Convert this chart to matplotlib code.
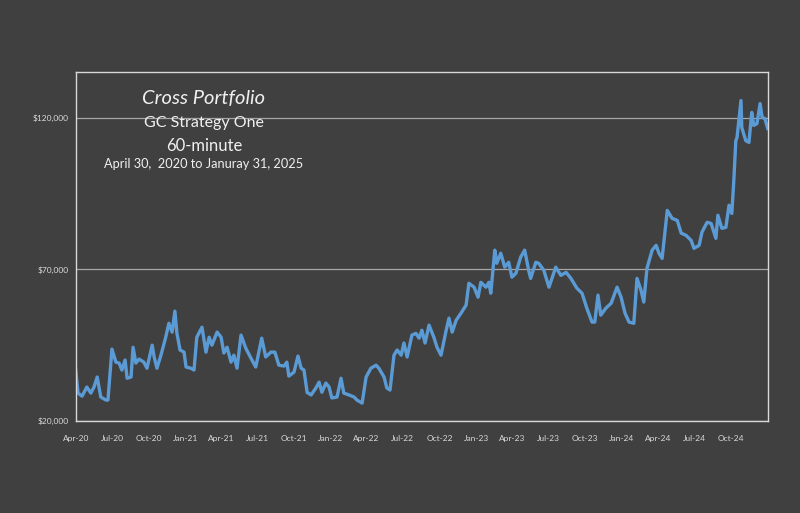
import pandas as pd
import matplotlib
matplotlib.use("Agg")
import matplotlib.pyplot as plt
import matplotlib.dates as mdates
from matplotlib.ticker import FuncFormatter

# equity curve
dates = [
    "2020-04-30", "2020-05-06", "2020-05-16", "2020-05-28", "2020-06-07", "2020-06-15",
    "2020-06-23", "2020-07-02", "2020-07-15", "2020-07-20", "2020-07-30", "2020-08-09",
    "2020-08-17", "2020-08-24", "2020-09-01", "2020-09-06", "2020-09-16", "2020-09-21",
    "2020-09-28", "2020-10-06", "2020-10-18", "2020-10-26", "2020-11-08", "2020-11-13",
    "2020-11-20", "2020-11-30", "2020-12-12", "2020-12-20", "2020-12-28", "2021-01-04",
    "2021-01-09", "2021-01-17", "2021-01-27", "2021-02-01", "2021-02-13", "2021-02-21",
    "2021-02-28", "2021-03-13", "2021-03-23", "2021-03-31", "2021-04-07", "2021-04-20",
    "2021-04-30", "2021-05-07", "2021-05-15", "2021-05-25", "2021-06-01", "2021-06-09",
    "2021-06-19", "2021-07-01", "2021-07-14", "2021-07-26", "2021-08-10", "2021-08-20",
    "2021-09-02", "2021-09-12", "2021-09-22", "2021-10-05", "2021-10-12", "2021-10-17",
    "2021-10-30", "2021-11-09", "2021-11-17", "2021-11-24", "2021-12-02", "2021-12-12",
    "2021-12-24", "2022-01-01", "2022-01-08", "2022-01-18", "2022-01-26", "2022-02-02",
    "2022-02-15", "2022-02-25", "2022-03-04", "2022-03-17", "2022-03-30", "2022-04-06",
    "2022-04-19", "2022-04-29", "2022-05-11", "2022-05-24", "2022-05-31", "2022-06-13",
    "2022-06-20", "2022-06-28", "2022-07-08", "2022-07-16", "2022-07-26", "2022-08-02",
    "2022-08-10", "2022-08-22", "2022-09-01", "2022-09-09", "2022-09-16", "2022-09-24",
    "2022-10-04", "2022-10-16", "2022-10-24", "2022-11-03", "2022-11-15", "2022-11-23",
    "2022-12-01", "2022-12-11", "2022-12-23", "2023-01-05", "2023-01-12", "2023-01-25",
    "2023-02-04", "2023-02-11", "2023-02-24", "2023-03-03", "2023-03-08", "2023-03-18",
    "2023-03-23", "2023-04-02", "2023-04-12", "2023-04-22", "2023-04-30", "2023-05-10",
    "2023-05-22", "2023-06-01", "2023-06-11", "2023-06-16", "2023-06-29", "2023-07-06",
    "2023-07-19", "2023-08-01", "2023-08-18", "2023-08-31", "2023-09-13", "2023-09-25",
    "2023-10-10", "2023-10-23", "2023-11-04", "2023-11-17", "2023-11-24", "2023-12-02",
    "2023-12-09", "2023-12-22", "2024-01-04", "2024-01-19", "2024-01-29", "2024-02-08",
    "2024-02-18", "2024-03-01", "2024-03-09", "2024-03-19", "2024-03-26", "2024-04-03",
    "2024-04-16", "2024-04-26", "2024-05-03", "2024-05-11", "2024-05-24", "2024-06-05",
    "2024-06-18", "2024-06-28", "2024-07-10", "2024-07-23", "2024-07-30", "2024-08-12",
    "2024-08-19", "2024-09-01", "2024-09-11", "2024-09-23", "2024-09-28", "2024-10-08",
    "2024-10-18", "2024-10-26", "2024-11-02", "2024-11-07", "2024-11-12", "2024-11-15",
    "2024-11-25", "2024-11-27", "2024-12-07", "2024-12-15", "2024-12-22", "2024-12-27",
    "2025-01-04", "2025-01-12", "2025-01-17", "2025-01-24", "2025-01-31",
]
equity = [
    36800, 29200, 28200, 31200, 29200, 31200,
    34500, 27900, 26900, 26900, 43700, 39400,
    39100, 36800, 40100, 34100, 34500, 44300,
    39100, 40400, 39400, 37400, 45000, 41100,
    37400, 41700, 47600, 52200, 49300, 56200,
    49000, 43400, 42700, 37800, 37400, 36800,
    47600, 50900, 42700, 47600, 45000, 49300,
    47600, 42400, 44300, 39400, 41700, 37400,
    48300, 44000, 40700, 37800, 47300, 41100,
    42700, 42700, 38400, 38100, 39400, 34800,
    36100, 41400, 37400, 36800, 29400, 28600,
    30900, 32800, 29500, 32500, 31200, 27600,
    27900, 34100, 29200, 28600, 27900, 26900,
    25900, 34500, 37400, 38400, 37400, 34500,
    30900, 30200, 41700, 43400, 41700, 45700,
    41100, 48300, 48900, 47300, 49900, 45700,
    51600, 47600, 44300, 41700, 49300, 53900,
    49300, 53200, 55500, 58200, 65400, 64100,
    60800, 65700, 64100, 65700, 62100, 76300,
    72000, 75300, 70700, 72300, 67400, 68700,
    74000, 76300, 69700, 67000, 72300, 72000,
    69700, 64100, 70700, 68000, 69000, 67000,
    63800, 62100, 57200, 52600, 52600, 61500,
    54900, 57200, 58800, 64100, 60800, 55500,
    52600, 52200, 67000, 63100, 59200, 70300,
    76300, 77900, 75300, 73600, 89400, 86800,
    86100, 81900, 81200, 79500, 76900, 77900,
    82200, 85500, 85100, 80200, 87800, 83500,
    83800, 91100, 88400, 99300, 112400, 113400,
    125600, 116700, 112400, 111800, 121700, 117400,
    118000, 124600, 120000, 119700, 116400,
]

title_lines = ["Cross Portfolio", "GC Strategy One", "60-minute",
               "April 30,  2020 to Januray 31, 2025"]
y_ticks = [20000, 70000, 120000]

bg = "#404040"
txt = "#d9d9d9"

plt.rcParams["font.family"] = ["Lato", "DejaVu Sans"]

x = pd.to_datetime(dates)

fig = plt.figure(figsize=(8, 5.13), dpi=100, facecolor=bg)
ax = fig.add_axes([0.0946, 0.1793, 0.865, 0.6803], facecolor=bg)

ax.plot(x, equity, color="#5b9bd5", lw=2.4, solid_joinstyle="round")

ax.set_xlim(pd.Timestamp("2020-04-30"), pd.Timestamp("2025-01-31"))
ax.set_ylim(20000, 135000)
ax.set_yticks(y_ticks)
ax.yaxis.set_major_formatter(FuncFormatter(lambda v, p: f"${v:,.0f}"))
ax.grid(axis="y", color="#a6a6a6", lw=0.9)

# quarterly labels on the 30th, like the reference
xt = pd.date_range("2020-04-01", "2024-12-31", freq="3MS") + pd.Timedelta(days=29)
ax.set_xticks(xt)
ax.xaxis.set_major_formatter(mdates.DateFormatter("%b-%y"))

ax.tick_params(length=0, colors=txt, labelsize=6)
ax.tick_params(axis="x", pad=10)
ax.tick_params(axis="y", pad=5)
for s in ax.spines.values():
    s.set_color("#d9d9d9")
    s.set_linewidth(1.0)

sizes = [14.5, 11.5, 12, 9.2]
ys = [99, 123, 146, 164]
for line, fs, yp, i in zip(title_lines, sizes, ys, range(4)):
    fig.text(204 / 800, 1 - yp / 513, line, color="#f0f0f0", fontsize=fs,
             ha="center", va="center", style="italic" if i == 0 else "normal")

fig.savefig("out.png", dpi=100, facecolor=bg)
